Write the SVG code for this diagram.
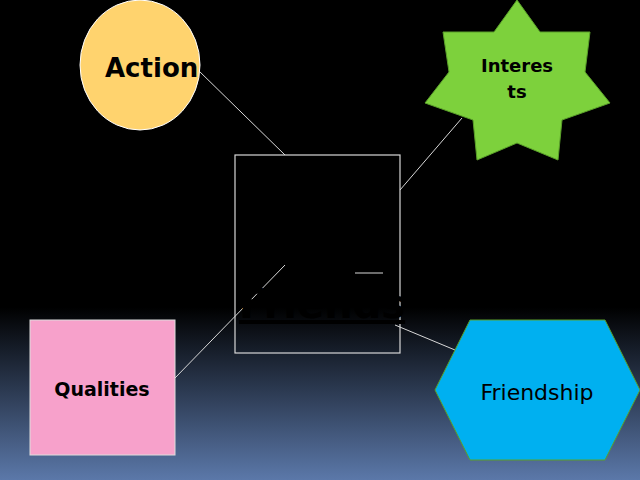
<svg xmlns="http://www.w3.org/2000/svg" width="640" height="480" viewBox="0 0 640 480">
<defs><linearGradient id="bg" x1="0" y1="0" x2="0" y2="1"><stop offset="0" stop-color="#000"/><stop offset="0.64" stop-color="#000"/><stop offset="1" stop-color="#5b78a9"/></linearGradient></defs>
<style>.c{stroke:#d8d8d8;stroke-width:1;fill:none}text{font-family:"DejaVu Sans",sans-serif}</style>
<rect width="640" height="480" fill="url(#bg)"/>
<g id="connectors">
<line class="c" x1="198" y1="70" x2="285" y2="155"/>
<line class="c" x1="400" y1="190" x2="462" y2="118"/>
<line class="c" x1="175" y1="378" x2="285" y2="265"/>
<line class="c" x1="395" y1="325" x2="455" y2="350"/>
<line class="c" x1="355" y1="273" x2="383" y2="273"/>
</g>
<g id="center"><rect x="235" y="155" width="165" height="198" fill="none" stroke="#d8d8d8" stroke-width="1.2"/>
<text x="322" y="318" font-size="40" font-weight="bold" text-anchor="middle" fill="#000" text-decoration="underline">Friends</text></g>
<g id="action"><ellipse cx="140" cy="65" rx="60" ry="65" fill="#ffd36e" stroke="#fff"/>
<text x="105" y="77" font-size="26" font-weight="bold" fill="#000">Action</text></g>
<g id="interests"><polygon points="517,0 540,32 590,32 585,72 610,103 562,120 558,160 517,143 477,160 473,120 425,103 449,72 443,32 494,32" fill="#7dd13c" stroke="#5aa02a"/>
<text x="517" y="72" font-size="18" font-weight="bold" text-anchor="middle">Interes</text><text x="517" y="98" font-size="18" font-weight="bold" text-anchor="middle">ts</text></g>
<g id="qualities"><rect x="30" y="320" width="145" height="135" fill="#f7a1cb" stroke="#ddd"/>
<text x="102" y="396" font-size="19" font-weight="bold" text-anchor="middle">Qualities</text></g>
<g id="friendship"><polygon points="435,390 470,320 605,320 640,390 605,460 470,460" fill="#00b0f0" stroke="#5aa02a"/>
<text x="537" y="400" font-size="22" text-anchor="middle">Friendship</text></g>
</svg>
